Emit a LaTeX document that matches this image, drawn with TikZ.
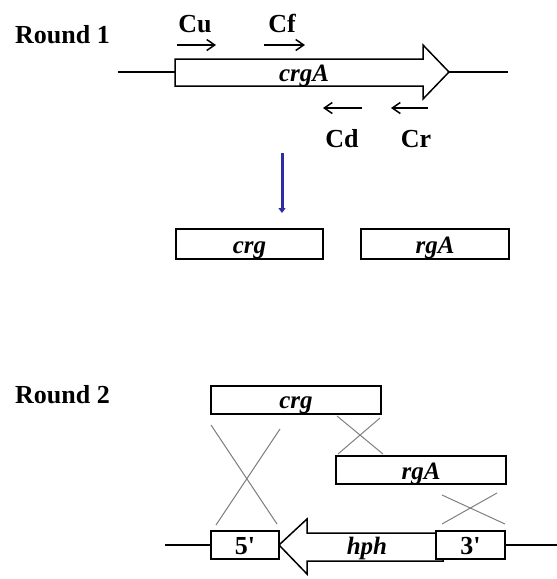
\documentclass[tikz,border=0pt]{standalone}
\usepackage{fontspec}
\setmainfont{Liberation Serif}
\usetikzlibrary{arrows.meta}
\begin{document}
\begin{tikzpicture}[x=1pt,y=-1pt,
  lbl/.style={font=\fontsize{26}{30}\selectfont\bfseries, inner sep=0pt, anchor=base},
  gene/.style={font=\fontsize{25}{30}\selectfont\bfseries\itshape, inner sep=0pt, anchor=base},
  genebox/.style={draw, line width=1.5pt, fill=white, inner sep=0pt},
  bigarrow/.style={draw, line width=1.5pt, fill=white, line join=miter},
  dna/.style={line width=2.4pt},
  primer/.style={line width=1.5pt, -{Straight Barb[length=8pt,width=11pt,line width=1.5pt]}},
  xline/.style={draw=gray, line width=1pt},
  blue arrow/.style={draw={rgb,255:red,45;green,45;blue,160}, line width=3pt, -{Triangle[length=5pt,width=7pt]}}]
\useasboundingbox (0,0) rectangle (557,579);

% ---------- Round 1 ----------
\node[lbl, anchor=base west] (r1) at (15,43) {Round 1};

\coordinate (l1a) at (118,72);
\coordinate (l1b) at (508,72);
\draw[dna] (l1a) -- (l1b);
\draw[bigarrow] (175,59) -- (423,59) -- (423,45) -- (449,72) -- (423,99) -- (423,86) -- (175,86) -- cycle;
\node[gene] (crgA) at (304,81) {crgA};

\node[lbl] (cu) at (195,32) {Cu};
\node[lbl] (cf) at (282,32) {Cf};
\node[lbl] (cd) at (342,147) {Cd};
\node[lbl] (cr) at (416,147) {Cr};
\coordinate (cu1) at (177,45); \coordinate (cu2) at (216,45);
\coordinate (cf1) at (264,45); \coordinate (cf2) at (305,45);
\coordinate (cd1) at (362,108); \coordinate (cd2) at (323,108);
\coordinate (cr1) at (428,108); \coordinate (cr2) at (391,108);
\draw[primer] (cu1) -- (cu2);
\draw[primer] (cf1) -- (cf2);
\draw[primer] (cd1) -- (cd2);
\draw[primer] (cr1) -- (cr2);

\node[genebox, minimum width=147pt, minimum height=30pt] (crg1) at (249.5,244) {};
\node[gene] (crg1t) at (249.5,253) {crg};
\node[genebox, minimum width=148pt, minimum height=30pt] (rga1) at (435,244) {};
\node[gene] (rga1t) at (435,253) {rgA};
\coordinate (bl1) at (282,153);
\coordinate (bl2) at (282,213);
\draw[blue arrow] (bl1) -- (bl2);

% ---------- Round 2 ----------
\node[lbl, anchor=base west] (r2) at (15,403) {Round 2};

\node[genebox, minimum width=170pt, minimum height=28pt] (crg2) at (296,400) {};
\node[gene] (crg2t) at (296,408) {crg};
\node[genebox, minimum width=170pt, minimum height=28pt] (rga2) at (421,470) {};
\node[gene] (rga2t) at (421,479) {rgA};

\coordinate (l2a) at (165,545);
\coordinate (l2b) at (557,545);
\draw[dna] (l2a) -- (l2b);
\draw[bigarrow] (279,545) -- (307,519) -- (307,533) -- (443,533) -- (443,561) -- (307,561) -- (307,574) -- cycle;
\node[gene] (hph) at (367,554) {hph};
\node[genebox, minimum width=68pt, minimum height=28pt] (five) at (245,545) {};
\node[lbl] (fivet) at (245,554) {5\textquotesingle};
\node[genebox, minimum width=69pt, minimum height=28pt] (three) at (470.5,545) {};
\node[lbl] (threet) at (470.5,554) {3\textquotesingle};

% crossover lines
\coordinate (xa1) at (211,425); \coordinate (xa2) at (277,524);
\coordinate (xb1) at (280,429); \coordinate (xb2) at (216,525);
\draw[xline] (xa1) -- (xa2);
\draw[xline] (xb1) -- (xb2);
\coordinate (xc1) at (337,416); \coordinate (xc2) at (383,454);
\coordinate (xd1) at (380,418); \coordinate (xd2) at (338,454);
\draw[xline] (xc1) -- (xc2);
\draw[xline] (xd1) -- (xd2);
\coordinate (xe1) at (442,495); \coordinate (xe2) at (505,524);
\coordinate (xf1) at (497,493); \coordinate (xf2) at (442,524);
\draw[xline] (xe1) -- (xe2);
\draw[xline] (xf1) -- (xf2);
\end{tikzpicture}
\end{document}
